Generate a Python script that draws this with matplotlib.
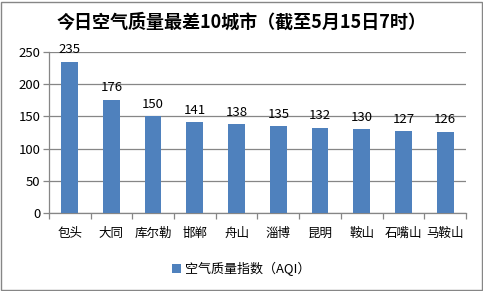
import matplotlib.pyplot as plt
import numpy as np

plt.rcParams["font.family"] = ["Noto Sans CJK SC", "DejaVu Sans"]

cities = ["包头", "大同", "库尔勒", "邯郸", "舟山", "淄博", "昆明", "鞍山", "石嘴山", "马鞍山"]
aqi = [235, 176, 150, 141, 138, 135, 132, 130, 127, 126]
yticks = [0, 50, 100, 150, 200, 250]

bar_color = "#4F81BD"
grid_color = "#868686"

fig = plt.figure(figsize=(4.83, 2.91), dpi=100)
ax = fig.add_axes([0.101, 0.268, 0.864, 0.553])

x = np.arange(len(cities))
bars = ax.bar(x, aqi, width=0.4, color=bar_color, zorder=3, label="空气质量指数（AQI）")
for xi, v in zip(x, aqi):
    ax.annotate(str(v), (xi, v), xytext=(0, 4), textcoords="offset points",
                ha="center", va="bottom", fontsize=9.5, color="black")

ax.set_ylim(0, 250)
ax.set_xlim(-0.5, len(cities) - 0.5)
ax.set_yticks(yticks)
ax.set_yticklabels([str(t) for t in yticks], fontsize=9.5)
ax.yaxis.grid(True, color=grid_color, linewidth=0.9, zorder=0)

ax.set_xticks(x)
ax.set_xticklabels(cities, fontsize=9)
ax.set_xticks(np.arange(-0.5, len(cities)), minor=True)
ax.tick_params(axis="x", which="major", length=0, pad=10)
ax.tick_params(axis="x", which="minor", length=4, color=grid_color, width=0.9)
ax.tick_params(axis="y", length=4, color=grid_color, width=0.9, pad=2)

for s in ["top", "right"]:
    ax.spines[s].set_visible(False)
for s in ["left", "bottom"]:
    ax.spines[s].set_color(grid_color)
    ax.spines[s].set_linewidth(0.9)

fig.text(0.5, 0.922, "今日空气质量最差10城市（截至5月15日7时）",
         ha="center", va="center", fontsize=13, fontweight="bold")

fig.legend(handles=[bars], loc="center", bbox_to_anchor=(0.5, 0.075),
           frameon=False, fontsize=9.4, handlelength=0.7, handleheight=0.7,
           handletextpad=0.3)

border = plt.Rectangle((0.003, 0.004), 0.994, 0.99, transform=fig.transFigure,
                       fill=False, edgecolor="#868686", linewidth=1)
fig.patches.append(border)

fig.savefig("out.png", dpi=100, facecolor="white")
